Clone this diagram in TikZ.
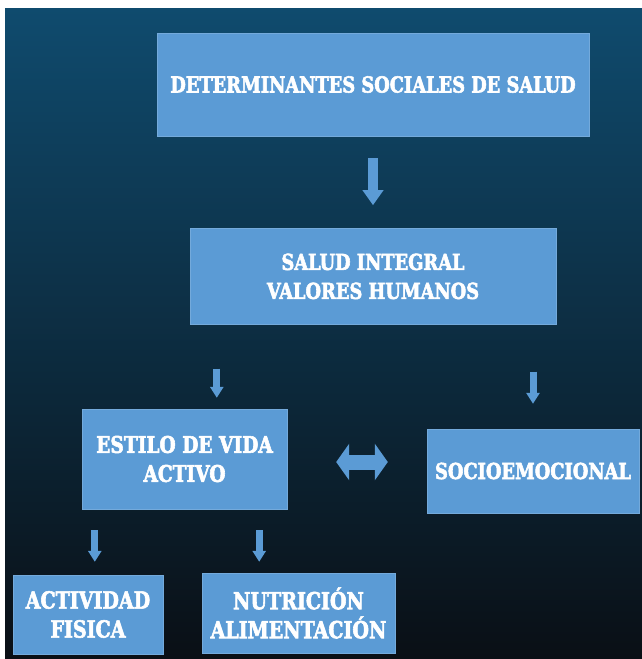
\documentclass[tikz,border=0pt]{standalone}
\usepackage{fontspec}
\newfontfamily\boxfont{DejaVu Serif Condensed}[FakeStretch=0.9, FakeBold=2.5]
\usetikzlibrary{arrows.meta, positioning}
\definecolor{boxblue}{HTML}{5B9BD5}
\definecolor{bgtop}{HTML}{0F4B6E}
\definecolor{bgmid}{HTML}{0B2437}
\definecolor{bgbot}{HTML}{0A0F15}

\begin{document}
\begin{tikzpicture}[
    x=1pt, y=-1pt,
    node distance=92pt,
    block/.style={rectangle, fill=boxblue, draw=boxblue!85!white, align=center, text=white, inner sep=0pt, font=\boxfont\bfseries\fontsize{22}{29}\selectfont},
    bigtext/.style={font=\boxfont\bfseries\fontsize{23.5}{29}\selectfont},
    arrow/.style={line width=10pt, draw=boxblue, -{Triangle[width=20pt, length=15pt]}},
    smallarrow/.style={line width=7pt, draw=boxblue, -{Triangle[width=13pt, length=11pt]}},
    dblarrow/.style={line width=15pt, draw=boxblue, {Triangle[width=36pt, length=13pt]}-{Triangle[width=36pt, length=13pt]}},
]

% Background
\fill[white] (0,0) rectangle (642,659);
\shade[top color=bgtop, middle color=bgmid, bottom color=bgbot] (5,8) rectangle (642,659);
\useasboundingbox (0,0) rectangle (642,659);

% Main vertical flow
\node[block, minimum width=432pt, minimum height=103pt] (determinantes) at (373,84.5) {DETERMINANTES SOCIALES DE SALUD};
\node[block, minimum width=366pt, minimum height=96pt, below=of determinantes] (integral) {SALUD INTEGRAL\\VALORES HUMANOS};

% Second row
\node[block, minimum width=205pt, minimum height=100pt, font=\boxfont\bfseries\fontsize{23}{29}\selectfont] (estilo) at (184.5,459) {ESTILO DE VIDA\\ACTIVO};
\node[block, minimum width=212pt, minimum height=84pt] (socio) at (533,471) {SOCIOEMOCIONAL};

% Bottom row
\node[block, bigtext, minimum width=150pt, minimum height=79pt] (actividad) at (88,614.5) {ACTIVIDAD\\FISICA};
\node[block, bigtext, minimum width=193pt, minimum height=80pt] (nutricion) at (298.5,613) {NUTRICIÓN\\ALIMENTACIÓN};

% Arrows
\draw[arrow, shorten <=22pt, shorten >=23pt] (determinantes) -- (integral);

\draw[smallarrow, shorten <=44pt, shorten >=11pt] ([xshift=27pt]integral.south west) -- ([xshift=27pt]integral.south west |- estilo.north);
\draw[smallarrow, shorten <=47pt, shorten >=25pt] (socio.north |- integral.south) -- (socio.north);

\draw[dblarrow, shorten <=49pt, shorten >=39pt] ([yshift=-3pt]estilo.east) -- ([yshift=-3pt]estilo.east -| socio.west);

\draw[smallarrow, shorten <=21pt, shorten >=13pt] ([xshift=13pt]estilo.south west) -- ([xshift=13pt]estilo.south west |- actividad.north);
\draw[smallarrow, shorten <=21pt, shorten >=11pt] ([xshift=-28pt]estilo.south east) -- ([xshift=-28pt]estilo.south east |- nutricion.north);

\end{tikzpicture}
\end{document}
